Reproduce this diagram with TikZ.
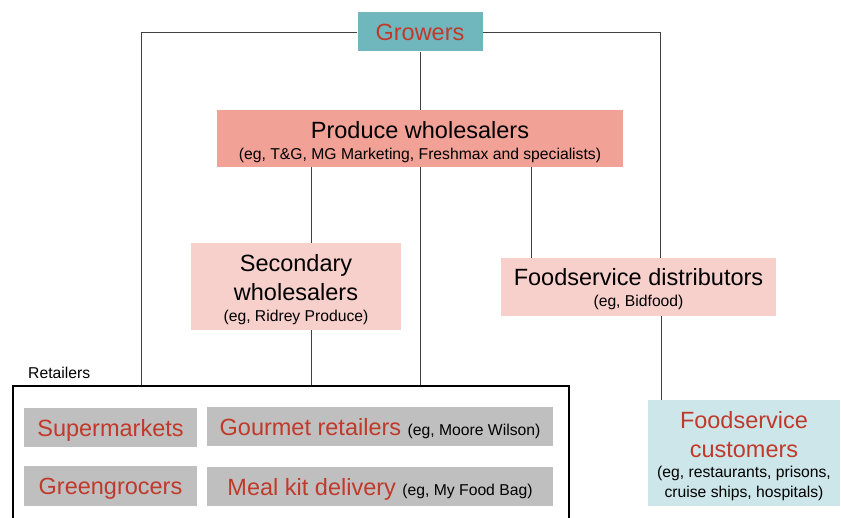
\documentclass[tikz,border=0pt]{standalone}
\usepackage{fontspec}
\setmainfont{Liberation Sans}
\usetikzlibrary{calc}
\definecolor{chainred}{RGB}{192,57,43}
\definecolor{growteal}{RGB}{111,183,189}
\definecolor{wholesalmon}{RGB}{242,161,150}
\definecolor{lightpink}{RGB}{248,208,203}
\definecolor{lightblue}{RGB}{205,230,234}
\definecolor{shopgray}{RGB}{191,191,191}
\newcommand{\bigtxt}{\fontsize{23.5}{29}\selectfont}
\newcommand{\smalltxt}{\fontsize{15.7}{20}\selectfont}
\newcommand{\eg}[1]{{\smalltxt\color{black}#1}}
\newcommand{\toproom}[1]{\vphantom{\raisebox{#1}{P}}}

\begin{document}
\begin{tikzpicture}[x=1pt, y=-1pt,
    box/.style={rectangle, inner sep=0pt, align=center, font=\bigtxt},
    shop/.style={box, fill=shopgray, text=chainred, minimum height=39, execute at begin node=\toproom{6pt}},
    link/.style={draw=black!75, line width=0.8pt}]
                \useasboundingbox (0,0) rectangle (841,518);

                \node[box, fill=growteal, text=chainred, minimum width=125, minimum height=39] (growers) at (420,32) {Growers};
                \node[box, fill=wholesalmon, minimum width=406, minimum height=57] (prodwh) at (420,138.5)
                    {\toproom{8pt}Produce wholesalers\\[-8pt] \eg{(eg, T\&G, MG Marketing, Freshmax and specialists)}};
                \node[box, fill=lightpink, minimum width=210, minimum height=87] (secwh) at (296,286.5)
                    {\toproom{7pt}Secondary\\ wholesalers\\[-8pt] \eg{(eg, Ridrey Produce)}};
                \node[box, fill=lightpink, minimum width=275, minimum height=58] (fsdist) at (638.5,287)
                    {\toproom{6pt}Foodservice distributors\\[-8pt] \eg{(eg, Bidfood)}};
                \node[box, fill=lightblue, text=chainred, minimum width=192, minimum height=106] (fscust) at (744,453)
                    {\toproom{7pt}Foodservice\\ customers\\[-9pt] \eg{(eg, restaurants, prisons,}\\[-9pt] \eg{cruise ships, hospitals)}};

                % retailers
                \node[font=\smalltxt, anchor=west, inner sep=0pt] (retlabel) at (28,373) {Retailers};
                \node[draw, line width=1.6pt, anchor=north west, minimum width=556, minimum height=160] (retail) at (12,385) {};
                \node[shop, minimum width=173] (supmkt) at (110.5,427.5) {Supermarkets};
                \node[shop, minimum width=346] (gourmet) at (380,426.5) {Gourmet retailers \eg{(eg, Moore Wilson)}};
                \node[shop, minimum width=173] (greengr) at (110.5,486) {Greengrocers};
                \node[shop, minimum width=346] (mealkit) at (380,486.5) {Meal kit delivery \eg{(eg, My Food Bag)}};

                \coordinate (lcorner) at (141,32);
                \coordinate (rcorner) at (660,32);
                \coordinate (secx) at (311,0);
                \coordinate (distx) at (531,0);
                \coordinate (custx) at (661,0);

                \draw[link] (growers.west) -- (lcorner) -- (lcorner |- retail.north);
                \draw[link] (growers.east) -- (rcorner) -- (rcorner |- fsdist.north);
                \draw[link] (growers.south) -- (prodwh.north);
                \draw[link] (prodwh.south) -- (prodwh.south |- retail.north);
                \draw[link] (secx |- prodwh.south) -- (secx |- secwh.north);
                \draw[link] (distx |- prodwh.south) -- (distx |- fsdist.north);
                \draw[link] (secx |- secwh.south) -- (secx |- retail.north);
                \draw[link] (custx |- fsdist.south) -- (custx |- fscust.north);
            \end{tikzpicture}
\end{document}
